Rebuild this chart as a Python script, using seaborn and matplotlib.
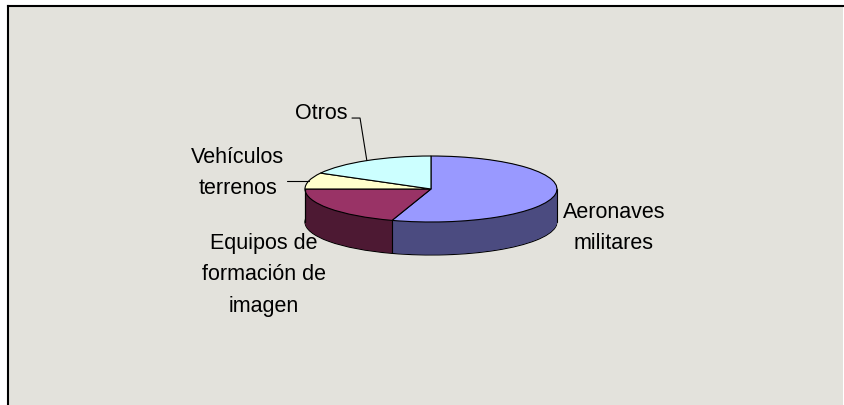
import numpy as np
import matplotlib
matplotlib.use("Agg")
import matplotlib.pyplot as plt
import seaborn as sns

# Datos del gráfico (porcentaje del total)
categorias = ["Aeronaves\nmilitares", "Equipos de\nformación de\nimagen", "Vehículos\nterrenos", "Otros"]
valores = [55, 20, 8, 17]
colores_sup = ["#9999FF", "#993366", "#FFFFCC", "#CCFFFF"]
colores_lado = ["#4B4B80", "#4D1933", "#80806A", "#6A8080"]

sns.set_style("white")
plt.rcParams["font.family"] = ["Liberation Sans", "DejaVu Sans"]

fig = plt.figure(figsize=(8.45, 4.05), dpi=100)
fig.patch.set_facecolor("white")
ax = fig.add_axes([8 / 845, 0, 835 / 845, 399 / 405])

profundidad = 1.0
base = dict(startangle=90, counterclock=False, radius=1)

# contorno inferior del pastel 3D
ax.pie(valores, colors=colores_lado, center=(0, -profundidad),
       wedgeprops=dict(edgecolor="black", linewidth=0.8), **base)
# capas laterales
for t in np.linspace(profundidad, 0, 70)[1:]:
    ax.pie(valores, colors=colores_lado, center=(0, -t),
           wedgeprops=dict(linewidth=0), **base)

# aristas verticales visibles
angulos = np.deg2rad(np.cumsum([0] + valores) / sum(valores) * 360)
xs = [-1, 1] + [np.sin(a) for a in angulos if np.cos(a) < 0]
ys = [0, 0] + [np.cos(a) for a in angulos if np.cos(a) < 0]
for x, y in zip(xs, ys):
    ax.plot([x, x], [y, y - profundidad], color="black", lw=0.8)

# cara superior
ax.pie(valores, colors=colores_sup, center=(0, 0),
       wedgeprops=dict(edgecolor="black", linewidth=0.8), **base)

# etiquetas
medios = (angulos[:-1] + angulos[1:]) / 2
pos_texto = [(1.452, -1.18), (-1.325, -2.6), (-1.532, 0.485), (-0.873, 2.30)]
for lab, (tx, ty) in zip(categorias, pos_texto):
    ax.text(tx, ty, lab, ha="center", va="center", fontsize=15.5,
            linespacing=1.65, color="black")

# líneas guía
mx, my = np.sin(medios[2]), np.cos(medios[2])
ax.plot([-1.143, mx], [my, my], color="black", lw=0.8)
mx, my = np.sin(medios[3]), np.cos(medios[3])
ax.plot([-0.627, -0.563, mx], [2.15, 2.15, my], color="black", lw=0.8)

ax.set_frame_on(True)
ax.set_facecolor("#E3E2DC")
ax.set_aspect("auto")
ax.set_xlim(-3.357, 3.270)
ax.set_ylim(-6.545, 5.545)
ax.set_xticks([])
ax.set_yticks([])
for lado in ["bottom", "right"]:
    ax.spines[lado].set_visible(False)
for lado in ["left", "top"]:
    ax.spines[lado].set_visible(True)
    ax.spines[lado].set_color("black")
    ax.spines[lado].set_linewidth(1.5)

fig.savefig("out.png", dpi=100, facecolor="white")
